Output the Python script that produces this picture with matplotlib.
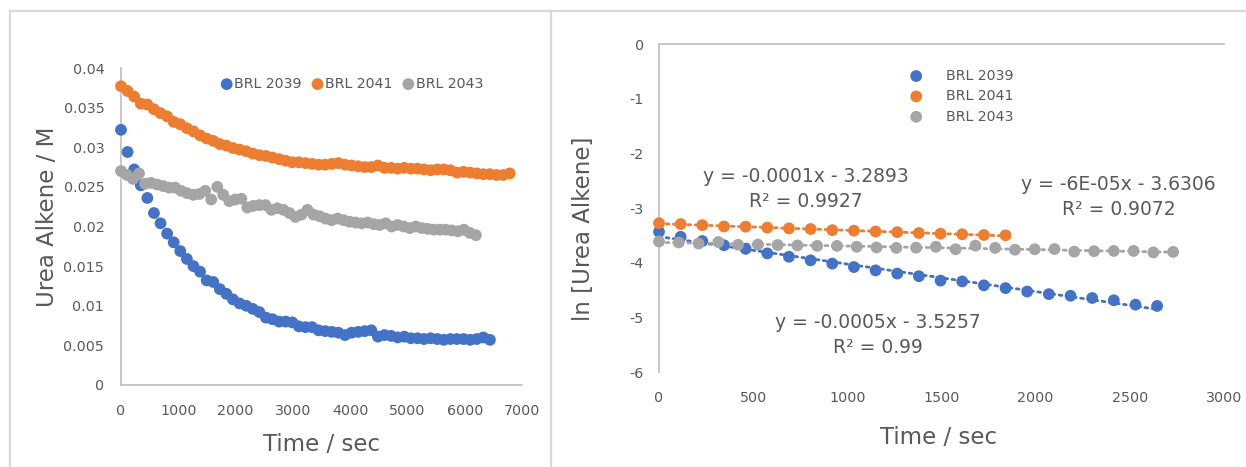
import matplotlib
matplotlib.use("Agg")
import matplotlib.pyplot as plt
from matplotlib.lines import Line2D
from matplotlib.ticker import FormatStrFormatter, FuncFormatter
import numpy as np

plt.rcParams['font.family'] = ['DejaVu Sans']
plt.rcParams['axes.unicode_minus'] = False

# ---- data ----
t_2039 = [0, 115, 230, 345, 460, 575, 690, 805, 920, 1035, 1150, 1265, 1380, 1495, 1610,
          1725, 1840, 1955, 2070, 2185, 2300, 2415, 2530, 2645, 2760, 2875, 2990, 3105,
          3220, 3335, 3450, 3565, 3680, 3795, 3910, 4025, 4140, 4255, 4370, 4485, 4600,
          4715, 4830, 4945, 5060, 5175, 5290, 5405, 5520, 5635, 5750, 5865, 5980, 6095,
          6210, 6325, 6440]
c_2039 = [0.0322, 0.0294, 0.0272, 0.0252, 0.0236, 0.0217, 0.0204, 0.0191, 0.0180, 0.0169,
          0.0159, 0.0150, 0.0143, 0.0132, 0.0130, 0.0121, 0.0115, 0.0108, 0.0103, 0.0100,
          0.0096, 0.0092, 0.0085, 0.0083, 0.0080, 0.0080, 0.0079, 0.0074, 0.0073, 0.0073,
          0.0069, 0.0068, 0.0067, 0.0066, 0.0063, 0.0066, 0.0067, 0.0068, 0.0069, 0.0061,
          0.0063, 0.0062, 0.0060, 0.0061, 0.0059, 0.0059, 0.0058, 0.0059, 0.0058, 0.0057,
          0.0058, 0.0058, 0.0058, 0.0057, 0.0058, 0.0060, 0.0057]

t_2041 = [0, 115, 230, 345, 460, 575, 690, 805, 920, 1035, 1150, 1265, 1380, 1495, 1610,
          1725, 1840, 1955, 2070, 2185, 2300, 2415, 2530, 2645, 2760, 2875, 2990, 3105,
          3220, 3335, 3450, 3565, 3680, 3795, 3910, 4025, 4140, 4255, 4370, 4485, 4600,
          4715, 4830, 4945, 5060, 5175, 5290, 5405, 5520, 5635, 5750, 5865, 5980, 6095,
          6210, 6325, 6440, 6555, 6670, 6785]
c_2041 = [0.0377, 0.0371, 0.0364, 0.0355, 0.0354, 0.0348, 0.0343, 0.0339, 0.0332, 0.0329,
          0.0324, 0.0320, 0.0315, 0.0311, 0.0308, 0.0304, 0.0302, 0.0299, 0.0297, 0.0295,
          0.0292, 0.0290, 0.0289, 0.0287, 0.0285, 0.0283, 0.0281, 0.0281, 0.0280, 0.0279,
          0.0278, 0.0278, 0.0279, 0.0280, 0.0278, 0.0277, 0.0276, 0.0275, 0.0275, 0.0277,
          0.0274, 0.0274, 0.0273, 0.0274, 0.0273, 0.0273, 0.0272, 0.0271, 0.0272, 0.0272,
          0.0271, 0.0268, 0.0269, 0.0268, 0.0267, 0.0266, 0.0266, 0.0265, 0.0265, 0.0267]

t_2043 = [0, 105, 210, 315, 420, 525, 630, 735, 840, 945, 1050, 1155, 1260, 1365, 1470,
          1575, 1680, 1785, 1890, 1995, 2100, 2205, 2310, 2415, 2520, 2625, 2730, 2835,
          2940, 3045, 3150, 3255, 3360, 3465, 3570, 3675, 3780, 3885, 3990, 4095, 4200,
          4305, 4410, 4515, 4620, 4725, 4830, 4935, 5040, 5145, 5250, 5355, 5460, 5565,
          5670, 5775, 5880, 5985, 6090, 6195]
c_2043 = [0.0270, 0.0265, 0.0260, 0.0267, 0.0254, 0.0255, 0.0253, 0.0251, 0.0249, 0.0249,
          0.0245, 0.0242, 0.0240, 0.0241, 0.0245, 0.0234, 0.0250, 0.0240, 0.0232, 0.0234,
          0.0235, 0.0224, 0.0226, 0.0227, 0.0227, 0.0221, 0.0223, 0.0221, 0.0217, 0.0212,
          0.0215, 0.0221, 0.0215, 0.0213, 0.0210, 0.0208, 0.0210, 0.0208, 0.0206, 0.0205,
          0.0204, 0.0205, 0.0203, 0.0202, 0.0204, 0.0200, 0.0202, 0.0200, 0.0198, 0.0200,
          0.0198, 0.0197, 0.0196, 0.0196, 0.0196, 0.0195, 0.0194, 0.0196, 0.0192, 0.0189]

labels = ['BRL 2039', 'BRL 2041', 'BRL 2043']
colors = ['#4472C4', '#ED7D31', '#A5A5A5']
# number of early points used in the ln plot
n_ln = [24, 17, 27]
eq_text = ['y = -0.0005x - 3.5257\nR² = 0.99',
           'y = -0.0001x - 3.2893\nR² = 0.9927',
           'y = -6E-05x - 3.6306\nR² = 0.9072']
eq_pos = [(1160, -5.33), (780, -2.66), (2440, -2.8)]

series_t = [t_2039, t_2041, t_2043]
series_c = [c_2039, c_2041, c_2043]

txt = '#595959'
spine = '#BFBFBF'
ms = 72

fig = plt.figure(figsize=(12.46, 4.67), dpi=100)

# frame lines like the screenshot
W, H = 1246, 467
for xs, ys in [([10, W], [11, 11]), ([10, 10], [11, H]), ([551, 551], [11, H])]:
    fig.add_artist(Line2D([x / W for x in xs], [1 - y / H for y in ys],
                          color='#D9D9D9', lw=1.6, transform=fig.transFigure))

# ---- left: concentration vs time ----
ax1 = fig.add_axes([121 / W, 1 - 385 / H, 401 / W, 317 / H])
for t, c, lab, col in zip(series_t, series_c, labels, colors):
    ax1.scatter(t, c, s=ms, color=col, label=lab, edgecolors='none', clip_on=False, zorder=3)
ax1.set_xlim(0, 7000)
ax1.set_ylim(0, 0.04)
ax1.set_xticks(np.arange(0, 7001, 1000))
ax1.set_yticks(np.arange(0, 0.0401, 0.005))
ax1.yaxis.set_major_formatter(FuncFormatter(lambda v, p: '%g' % round(v, 4)))
for s in ['top', 'right']:
    ax1.spines[s].set_visible(False)
for s in ['left', 'bottom']:
    ax1.spines[s].set_color(spine)
    ax1.spines[s].set_linewidth(1.2)
ax1.tick_params(length=0, labelsize=10.3, labelcolor=txt)
ax1.tick_params(axis='y', pad=12)
ax1.tick_params(axis='x', pad=14)
ax1.set_xlabel('Time / sec', fontsize=16.5, color=txt, va='center')
ax1.set_ylabel('Urea Alkene / M', fontsize=16.5, color=txt, va='center')
ax1.xaxis.set_label_coords(0.499, -0.189)
ax1.yaxis.set_label_coords(-0.1845, 0.53)
ax1.legend(loc='center', bbox_to_anchor=(0.575, 0.95), ncol=3, frameon=False,
           fontsize=10.2, labelcolor=txt, handletextpad=0.05, columnspacing=0.6,
           borderpad=0, handlelength=1.0, scatterpoints=1)

# ---- right: ln plot with linear trendlines ----
ax2 = fig.add_axes([659 / W, 1 - 372 / H, 565 / W, 328 / H])
for t, c, n, lab, col, eq, pos in zip(series_t, series_c, n_ln, labels, colors, eq_text, eq_pos):
    x = np.array(t[:n])
    y = np.log(np.array(c[:n]))
    ax2.scatter(x, y, s=ms, color=col, label=lab, edgecolors='none', clip_on=False, zorder=3)
    k, b = np.polyfit(x, y, 1)
    ax2.plot([x[0], x[-1]], [k * x[0] + b, k * x[-1] + b], color=col, lw=2,
             linestyle=(0, (1, 1.6)), dash_capstyle='round', zorder=2)
    ax2.text(pos[0], pos[1], eq, ha='center', va='center', fontsize=13.5, color=txt,
             linespacing=1.4)
ax2.set_xlim(0, 3000)
ax2.set_ylim(-6, 0)
ax2.set_xticks(np.arange(0, 3001, 500))
ax2.set_yticks(np.arange(-6, 0.1, 1))
ax2.yaxis.set_major_formatter(FormatStrFormatter('%d'))
for s in ['bottom', 'right']:
    ax2.spines[s].set_visible(False)
for s in ['left', 'top']:
    ax2.spines[s].set_color(spine)
    ax2.spines[s].set_linewidth(1.2)
ax2.tick_params(length=0, labelsize=10.3, labelcolor=txt)
ax2.tick_params(axis='y', pad=11)
ax2.tick_params(axis='x', pad=14)
ax2.set_xlabel('Time / sec', fontsize=16.5, color=txt, va='center')
ax2.set_ylabel('ln [Urea Alkene]', fontsize=16.5, color=txt, va='center')
ax2.xaxis.set_label_coords(0.494, -0.201)
ax2.yaxis.set_label_coords(-0.133, 0.436)
ax2.legend(loc='center', bbox_to_anchor=(0.535, 0.841), ncol=1, frameon=False,
           fontsize=10.2, labelcolor=txt, handletextpad=1.6, labelspacing=0.45,
           borderpad=0, handlelength=1.0, scatterpoints=1)

fig.savefig('out.png', dpi=100)
